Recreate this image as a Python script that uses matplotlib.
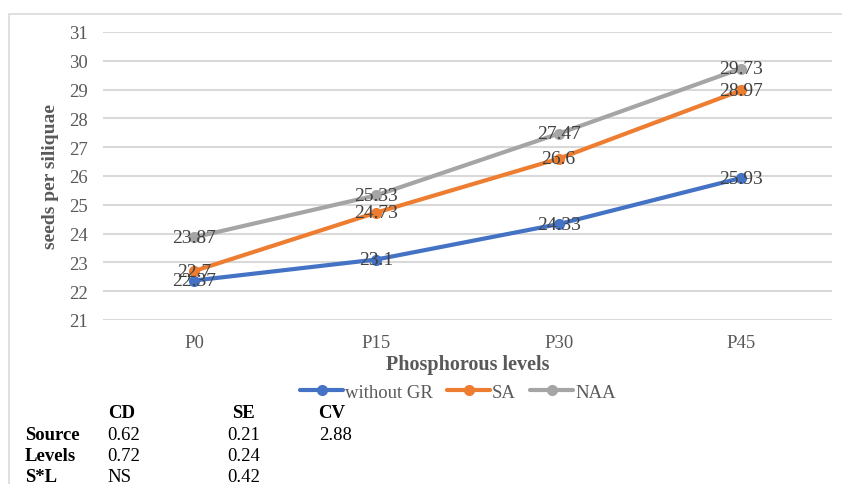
import matplotlib.pyplot as plt
from matplotlib.patches import Rectangle

levels = ["P0", "P15", "P30", "P45"]
without_gr = [22.37, 23.1, 24.33, 25.93]
sa = [22.7, 24.73, 26.6, 28.97]
naa = [23.87, 25.33, 27.47, 29.73]
labels_without_gr = ["22.37", "23.1", "24.33", "25.93"]
labels_sa = ["22.7", "24.73", "26.6", "28.97"]
labels_naa = ["23.87", "25.33", "27.47", "29.73"]

table_header = ["CD", "SE", "CV"]
table_rows = ["Source", "Levels", "S*L"]
table_cd = ["0.62", "0.72", "NS"]
table_se = ["0.21", "0.24", "0.42"]
table_cv = ["2.88", "", ""]

plt.rcParams["font.family"] = ["Liberation Serif", "DejaVu Serif"]

fig = plt.figure(figsize=(8.42, 4.85), dpi=100)
fig.patches.append(Rectangle((9 / 842, -0.1), 1.0, 1.1 - 15 / 485,
                             transform=fig.transFigure, fill=False,
                             edgecolor="#D9D9D9", linewidth=1.2))
ax = fig.add_axes([103 / 842, 1 - 321 / 485, 729 / 842, 288 / 485])

x = range(len(levels))
series = [
    ("without GR", without_gr, labels_without_gr, "#4472C4"),
    ("SA", sa, labels_sa, "#ED7D31"),
    ("NAA", naa, labels_naa, "#A5A5A5"),
]
for name, vals, labs, color in series:
    ax.plot(x, vals, color=color, linewidth=3, marker="o", markersize=7,
            label=name, solid_capstyle="round", zorder=3)
    for xi, v, t in zip(x, vals, labs):
        ax.text(xi, v, t, ha="center", va="center", fontsize=14,
                color="#404040", zorder=4)

ax.set_xlim(-0.5, len(levels) - 0.5)
ax.set_ylim(21, 31)
ax.set_yticks(range(21, 32))
ax.set_xticks(list(x))
ax.set_xticklabels(levels)
ax.grid(axis="y", color="#D9D9D9", linewidth=1.5)
ax.set_axisbelow(True)
for s in ax.spines.values():
    s.set_visible(False)
ax.tick_params(axis="both", length=0, labelsize=13.5, colors="#595959")
ax.tick_params(axis="x", pad=10)
ax.tick_params(axis="y", pad=11)

ax.set_xlabel("Phosphorous levels", fontsize=14.5, fontweight="bold",
              color="#595959", labelpad=2)
ax.set_ylabel("seeds per siliquae", fontsize=14, fontweight="bold",
              color="#595959", labelpad=7)

fig.legend(loc="center", bbox_to_anchor=(458 / 842, 1 - 393 / 485), ncol=3,
           frameon=False, fontsize=13.5, handlelength=2.3, columnspacing=0.75,
           handletextpad=0.1, labelcolor="#595959")

def fy(py):
    return 1 - py / 485

for cx, h in zip([108, 232, 318], table_header):
    fig.text(cx / 842, fy(414), h, fontsize=13.5, fontweight="bold",
             va="center", color="black")
for i, r in enumerate(table_rows):
    py = 436 + i * 21
    fig.text(25 / 842, fy(py), r, fontsize=13.5, fontweight="bold",
             va="center", color="black")
    fig.text(107 / 842, fy(py), table_cd[i], fontsize=13.5, va="center")
    fig.text(227 / 842, fy(py), table_se[i], fontsize=13.5, va="center")
    fig.text(319 / 842, fy(py), table_cv[i], fontsize=13.5, va="center")

fig.savefig("out.png", dpi=100)
